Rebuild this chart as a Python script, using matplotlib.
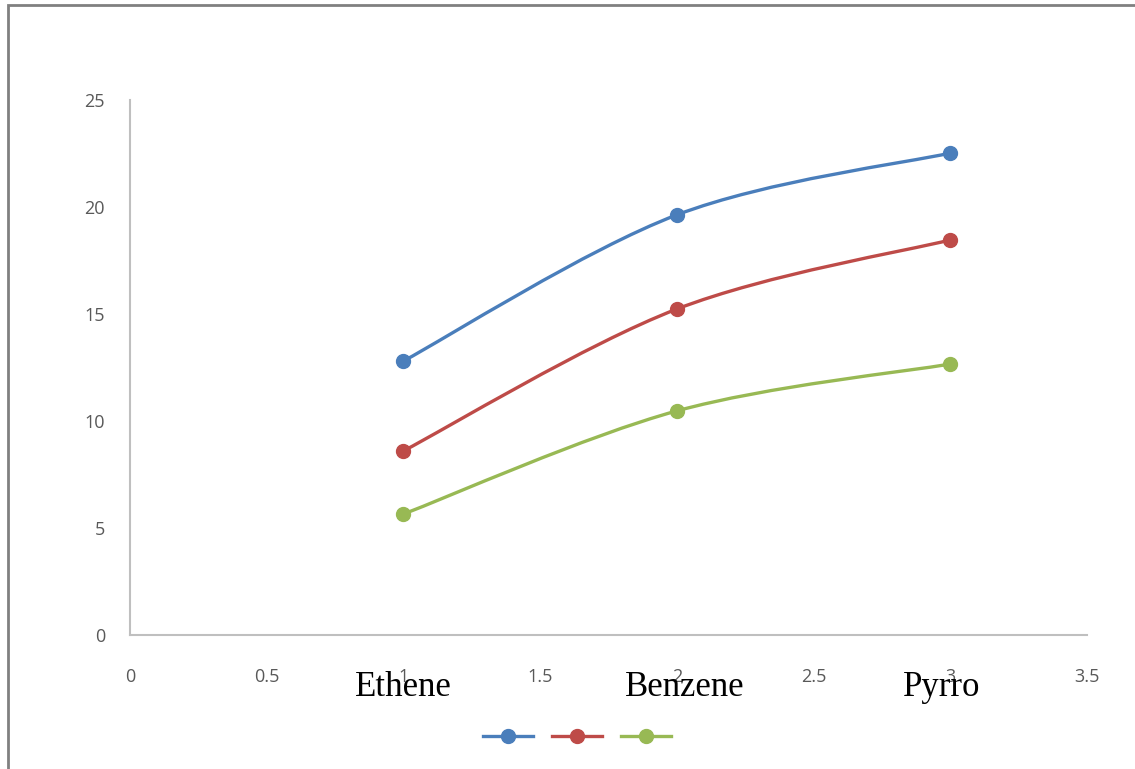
import matplotlib.pyplot as plt
from matplotlib.path import Path
from matplotlib.patches import PathPatch, Rectangle
from matplotlib.lines import Line2D

# data
x = [1, 2, 3]
categories = ['Ethene', 'Benzene', 'Pyrro']
series_a = [12.8, 19.63, 22.52]
series_b = [8.6, 15.23, 18.46]
series_c = [5.65, 10.47, 12.66]
colors = ['#4a7ebb', '#be4b48', '#98b954']


def smooth_path(xs, ys):
    # Catmull-Rom style bezier through the points (like a smoothed spreadsheet line)
    pts = list(zip(xs, ys))
    verts = [pts[0]]
    codes = [Path.MOVETO]
    n = len(pts)
    for i in range(n - 1):
        p0 = pts[i - 1] if i > 0 else pts[i]
        p1 = pts[i]
        p2 = pts[i + 1]
        p3 = pts[i + 2] if i + 2 < n else pts[i + 1]
        c1 = (p1[0] + (p2[0] - p0[0]) / 6, p1[1] + (p2[1] - p0[1]) / 6)
        c2 = (p2[0] - (p3[0] - p1[0]) / 6, p2[1] - (p3[1] - p1[1]) / 6)
        verts += [c1, c2, p2]
        codes += [Path.CURVE4] * 3
    return Path(verts, codes)


fig = plt.figure(figsize=(11.35, 7.69), dpi=100)
ax = fig.add_axes([0.1145, 0.1743, 0.8432, 0.6957])

# outer frame
fig.patches.append(Rectangle((8 / 1135, -0.05), 1.2, 1 - 5 / 769 + 0.05,
                             transform=fig.transFigure, fill=False,
                             edgecolor='#808080', linewidth=2))

for ys, c in zip([series_a, series_b, series_c], colors):
    ax.add_patch(PathPatch(smooth_path(x, ys), fill=False, edgecolor=c,
                           linewidth=2.4, capstyle='round'))
    ax.plot(x, ys, linestyle='none', marker='o', markersize=10, color=c)

ax.set_xlim(0, 3.5)
ax.set_ylim(0, 25)
ax.set_xticks([0, 0.5, 1, 1.5, 2, 2.5, 3, 3.5])
ax.set_xticklabels(['0', '0.5', '1', '1.5', '2', '2.5', '3', '3.5'])
ax.set_yticks([0, 5, 10, 15, 20, 25])

for side in ['top', 'right']:
    ax.spines[side].set_visible(False)
for side in ['left', 'bottom']:
    ax.spines[side].set_color('#bfbfbf')
    ax.spines[side].set_linewidth(1.5)
ax.tick_params(length=0, labelcolor='#595959', labelsize=13)
ax.tick_params(axis='x', pad=24)
ax.tick_params(axis='y', pad=18)
for lab in ax.get_xticklabels() + ax.get_yticklabels():
    lab.set_family('Open Sans')

# category names under the axis
offsets = [0, 0.03, -0.03]
for xi, name, dx in zip(x, categories, offsets):
    ax.text(xi + dx, -2.85, name,
            ha='center', va='baseline', family='Liberation Serif', fontsize=25)

handles = [Line2D([], [], color=c, linewidth=2.4, marker='o', markersize=10)
           for c in colors]
fig.legend(handles, ['', '', ''], loc='center', bbox_to_anchor=(577 / 1135, 1 - 737 / 769),
           ncol=3, frameon=False, handlelength=2.55, handletextpad=0,
           columnspacing=1.0, fontsize=14)

fig.savefig('out.png', dpi=100)
